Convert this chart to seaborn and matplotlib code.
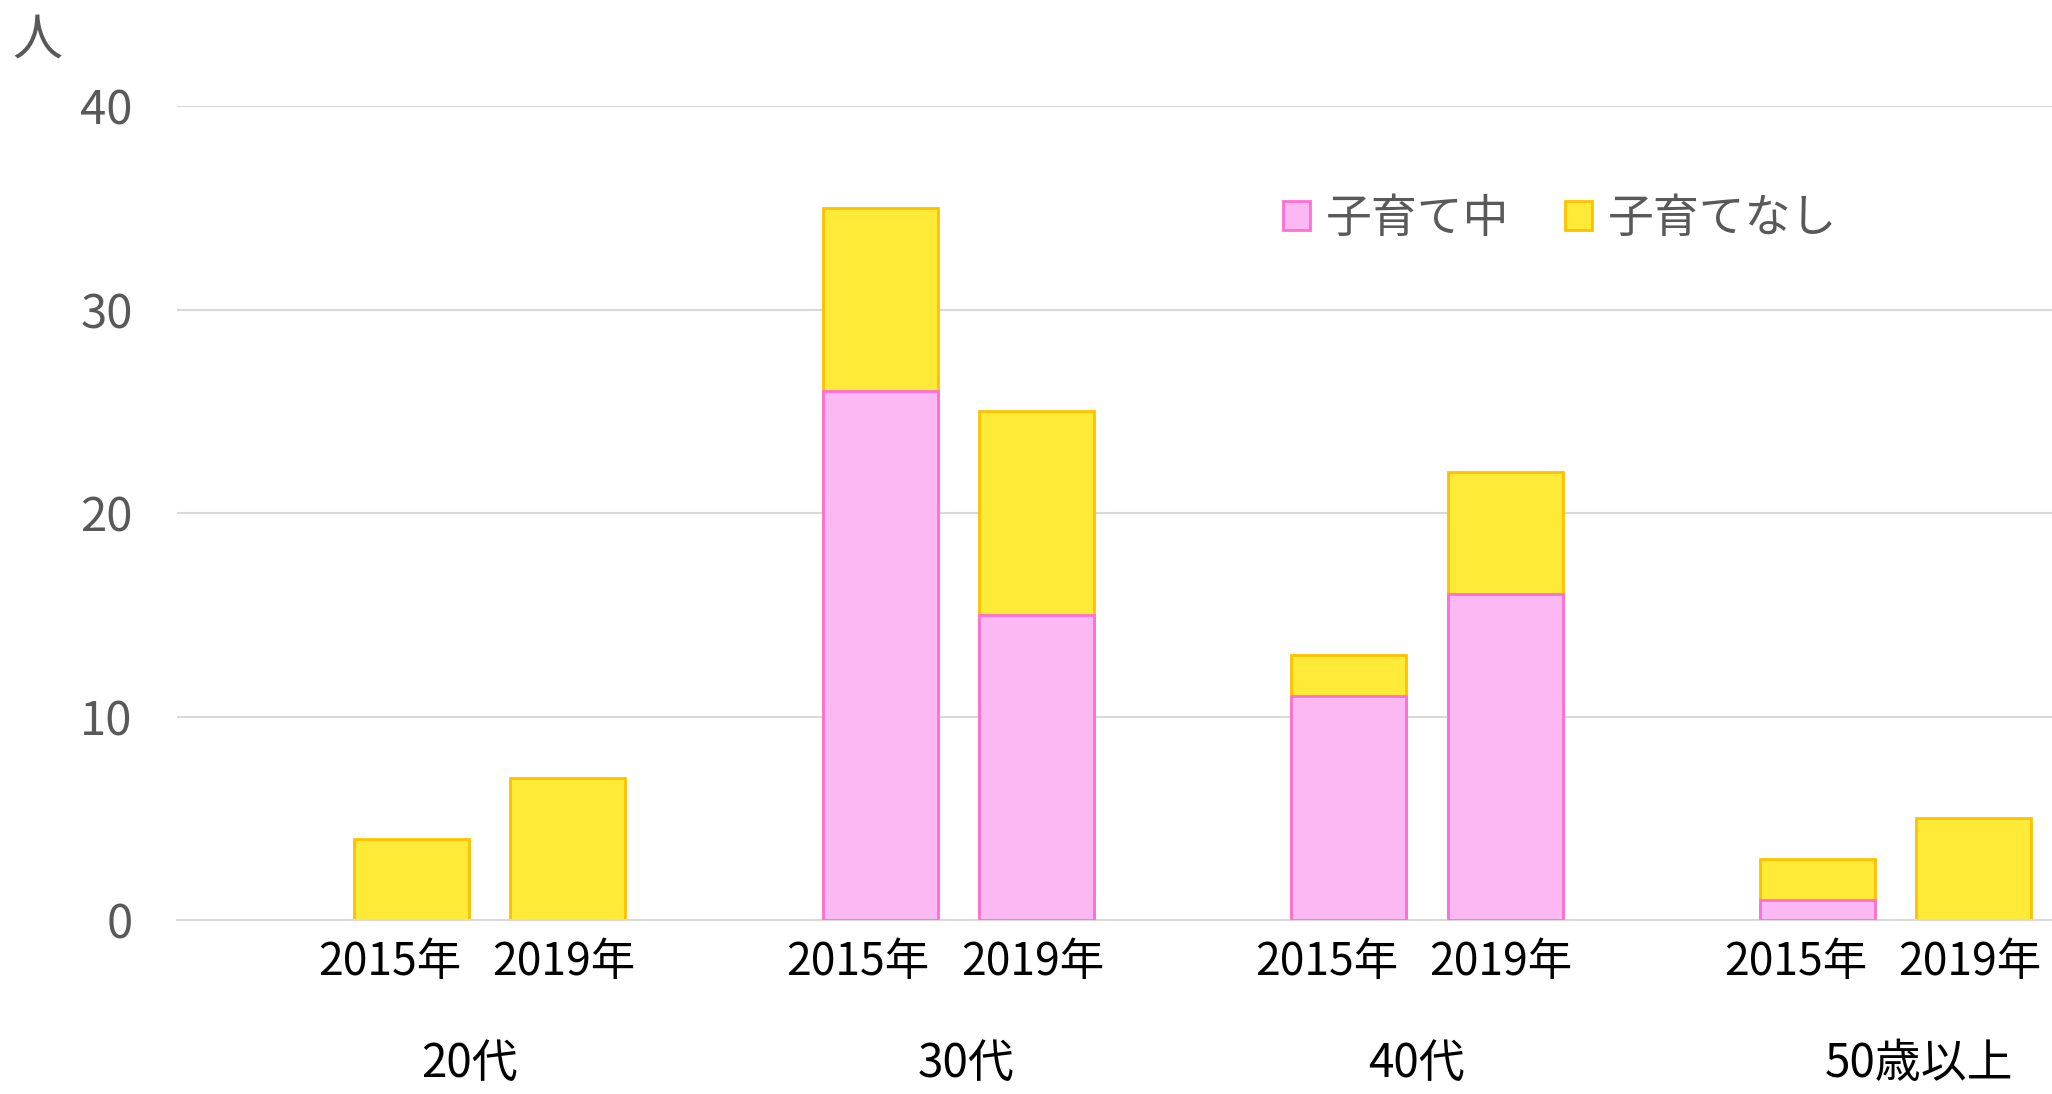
import numpy as np
import pandas as pd
import seaborn as sns
import matplotlib.pyplot as plt
from matplotlib.patches import Patch
from matplotlib.transforms import ScaledTranslation

# data
groups = ["20代", "30代", "40代", "50歳以上"]
years = ["2015年", "2019年"]
kosodate_chu = [0, 0, 26, 15, 11, 16, 1, 0]      # 子育て中
kosodate_nashi = [4, 7, 9, 10, 2, 6, 2, 5]       # 子育てなし
group_label_x = [1.37, 4.55, 7.43, 10.65]        # where the group labels sit (slot units)

sns.set_theme(style="white")
plt.rcParams["font.family"] = ["Noto Sans CJK JP", "DejaVu Sans"]

# each group = one blank slot + two year slots
slots = []
for g in groups:
    slots += [g + "_", g + "_2015年", g + "_2019年"]

rows = []
i = 0
for g in groups:
    for y in years:
        rows.append({"slot": g + "_" + y,
                     "chu": kosodate_chu[i],
                     "total": kosodate_chu[i] + kosodate_nashi[i]})
        i += 1
df = pd.DataFrame(rows)

fig = plt.figure(figsize=(20.52, 10.94), dpi=100)
ax = fig.add_axes([0.0863, 0.159, 0.9137, 0.7441])

pink, pink_edge = "#FCB8F2", "#FF6FD2"
yellow, yellow_edge = "#FFEB37", "#FFC000"

sns.barplot(data=df, x="slot", y="total", order=slots, color=yellow,
            edgecolor=yellow_edge, linewidth=2, width=0.735, saturation=1,
            ax=ax, zorder=2)
sns.barplot(data=df[df["chu"] > 0], x="slot", y="chu", order=slots, color=pink,
            edgecolor=pink_edge, linewidth=2, width=0.735, saturation=1,
            ax=ax, zorder=3)

ax.set_xlim(-0.5, len(slots) - 0.5)
ax.set_ylim(0, 40)
ax.set_yticks([0, 10, 20, 30, 40])
ax.yaxis.grid(True, color="#D9D9D9", linewidth=1.5, zorder=0)
ax.set_axisbelow(True)
for s in ["top", "right", "left"]:
    ax.spines[s].set_visible(False)
ax.spines["bottom"].set_color("#D9D9D9")
ax.spines["bottom"].set_linewidth(1.5)
ax.set_xlabel("")
ax.set_ylabel("")

labels = [s.split("_")[1] for s in slots]
ax.set_xticks(range(len(slots)))
ax.set_xticklabels(labels)
ax.tick_params(axis="x", length=0, pad=14, labelsize=32, labelcolor="black")
ax.tick_params(axis="y", length=0, pad=32, labelsize=34, labelcolor="#595959")
for lab in ax.get_xticklabels():
    dx = -0.22 if lab.get_text() == "2015年" else -0.04
    lab.set_transform(lab.get_transform() + ScaledTranslation(dx, 0, fig.dpi_scale_trans))

for gx, g in zip(group_label_x, groups):
    ax.text(gx, -0.177, g, transform=ax.get_xaxis_transform(),
            ha="center", va="center", fontsize=33, color="black")

fig.text(0.018, 0.962, "人", ha="center", va="center", fontsize=36, color="#595959")

handles = [Patch(facecolor=pink, edgecolor=pink_edge, linewidth=2, label="子育て中"),
           Patch(facecolor=yellow, edgecolor=yellow_edge, linewidth=2, label="子育てなし")]
leg = fig.legend(handles=handles, loc="center left", bbox_to_anchor=(0.605, 0.800),
                 ncol=2, frameon=False, fontsize=33, handlelength=0.6,
                 handleheight=0.6, handletextpad=0.35, columnspacing=1.2)
for t in leg.get_texts():
    t.set_color("#595959")

fig.savefig("out.png", dpi=100)
